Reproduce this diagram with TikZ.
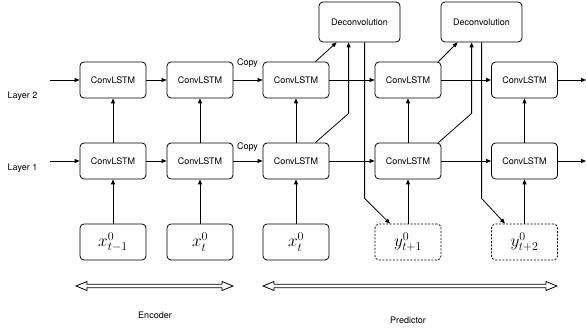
\documentclass[tikz,border=0pt]{standalone}
\usepackage{fontspec}
\setmainfont{TeX Gyre Heros}
\usetikzlibrary{arrows.meta,calc}
\begin{document}
\begin{tikzpicture}[x=1pt,y=-1pt,
  lw/.style={line width=0.8pt},
  arr/.style={lw,-{Triangle[length=5pt,width=4pt]}},
  cell/.style={draw,lw,rounded corners=4pt,minimum width=66pt,minimum height=36pt,inner sep=0pt,font=\fontsize{9}{10}\selectfont},
  deconv/.style={draw,lw,rounded corners=4pt,minimum width=81pt,minimum height=40pt,inner sep=0pt,font=\fontsize{9}{10}\selectfont},
  inbox/.style={draw,lw,rounded corners=4pt,minimum width=66pt,minimum height=36pt,inner sep=0pt,font=\fontsize{18}{22}\selectfont},
  outbox/.style={inbox,dash pattern=on 2pt off 1.5pt},
  lbl/.style={inner sep=0pt,font=\fontsize{9}{10}\selectfont},
]
\useasboundingbox (0,0) rectangle (586,331);
% layer 2
\node[cell] (a1) at (113,80) {ConvLSTM};
\node[cell] (a2) at (200,80) {ConvLSTM};
\node[cell] (a3) at (296,80) {ConvLSTM};
\node[cell] (a4) at (408,80) {ConvLSTM};
\node[cell] (a5) at (524.5,80) {ConvLSTM};
% layer 1
\node[cell] (b1) at (113,161) {ConvLSTM};
\node[cell] (b2) at (200,161) {ConvLSTM};
\node[cell] (b3) at (296,161) {ConvLSTM};
\node[cell] (b4) at (408,161) {ConvLSTM};
\node[cell] (b5) at (524.5,161) {ConvLSTM};
% inputs
\node[inbox] (x1) at (113,242) {$x^0_{t-1}$};
\node[inbox] (x2) at (200,242) {$x^0_{t}$};
\node[inbox] (x3) at (296,242) {$x^0_{t}$};
\node[outbox] (y1) at (408,242) {$y^0_{t+1}$};
\node[outbox] (y2) at (524.5,242) {$y^0_{t+2}$};
% deconvolution
\node[deconv] (d1) at (359.5,22) {Deconvolution};
\node[deconv] (d2) at (481.5,22) {Deconvolution};
% labels
\node[lbl] (l2) at (22.5,96) {Layer 2};
\node[lbl] (l1) at (22.5,168) {Layer 1};
\node[lbl] (c2) at (247.5,63) {Copy};
\node[lbl] (c1) at (247.5,147) {Copy};
\node[lbl] (enc) at (155,315) {Encoder};
\node[lbl] (pred) at (408,320) {Predictor};
% free ends
\coordinate (i2) at (50,80);
\coordinate (i1) at (50,161);
\coordinate (o2) at (586,80);
\coordinate (o1) at (586,161);
% horizontal
\draw[arr] (i2) -- (a1.west);
\draw[arr] (i1) -- (b1.west);
\draw[arr] (a1) -- (a2);
\draw[arr] (a2) -- (a3);
\draw[arr] (a3) -- (a4);
\draw[arr] (a4) -- (a5);
\draw[arr] (b1) -- (b2);
\draw[arr] (b2) -- (b3);
\draw[arr] (b3) -- (b4);
\draw[arr] (b4) -- (b5);
\draw[arr] (a5.east) -- (o2);
\draw[arr] (b5.east) -- (o1);
% vertical
\foreach \c in {1,...,5} {\draw[arr] (b\c) -- (a\c);}
\draw[arr] (x1) -- (b1);
\draw[arr] (x2) -- (b2);
\draw[arr] (x3) -- (b3);
\draw[arr] (y1) -- (b4);
\draw[arr] (y2) -- (b5);
% deconvolution connectors
\draw[arr] ([xshift=-14pt]a3.north east) -- ([xshift=18pt]d1.south west);
\draw[arr] ([xshift=-14pt]b3.north east) -- ([xshift=30pt,yshift=-71pt]d1.south west) -- ([xshift=30pt]d1.south west);
\draw[arr] ([xshift=46pt]d1.south west) -- ([xshift=46pt,yshift=-156pt]d1.south west) -- ([xshift=-18pt]y1.north);
\draw[arr] ([xshift=-3pt]a4.north east) -- ([xshift=17pt]d2.south west);
\draw[arr] ([xshift=-3pt]b4.north east) -- ([xshift=31pt,yshift=-71pt]d2.south west) -- ([xshift=31pt]d2.south west);
\draw[arr] ([xshift=41pt]d2.south west) -- ([xshift=41pt,yshift=-156pt]d2.south west) -- ([xshift=-19.5pt]y2.north);
% double arrows
\def\dblarrow#1#2#3{%
  \draw[lw,fill=white] (#1,#3) -- ++(11,-4.5) -- ++(0,2.8) -- (#2-11,#3-1.7) -- ++(0,-2.8) -- (#2,#3) -- (#2-11,#3+4.5) -- ++(0,-2.8) -- (#1+11,#3+1.7) -- ++(0,2.8) -- cycle;}
\dblarrow{76}{233}{286}
\dblarrow{263}{557}{286}
\end{tikzpicture}
\end{document}
